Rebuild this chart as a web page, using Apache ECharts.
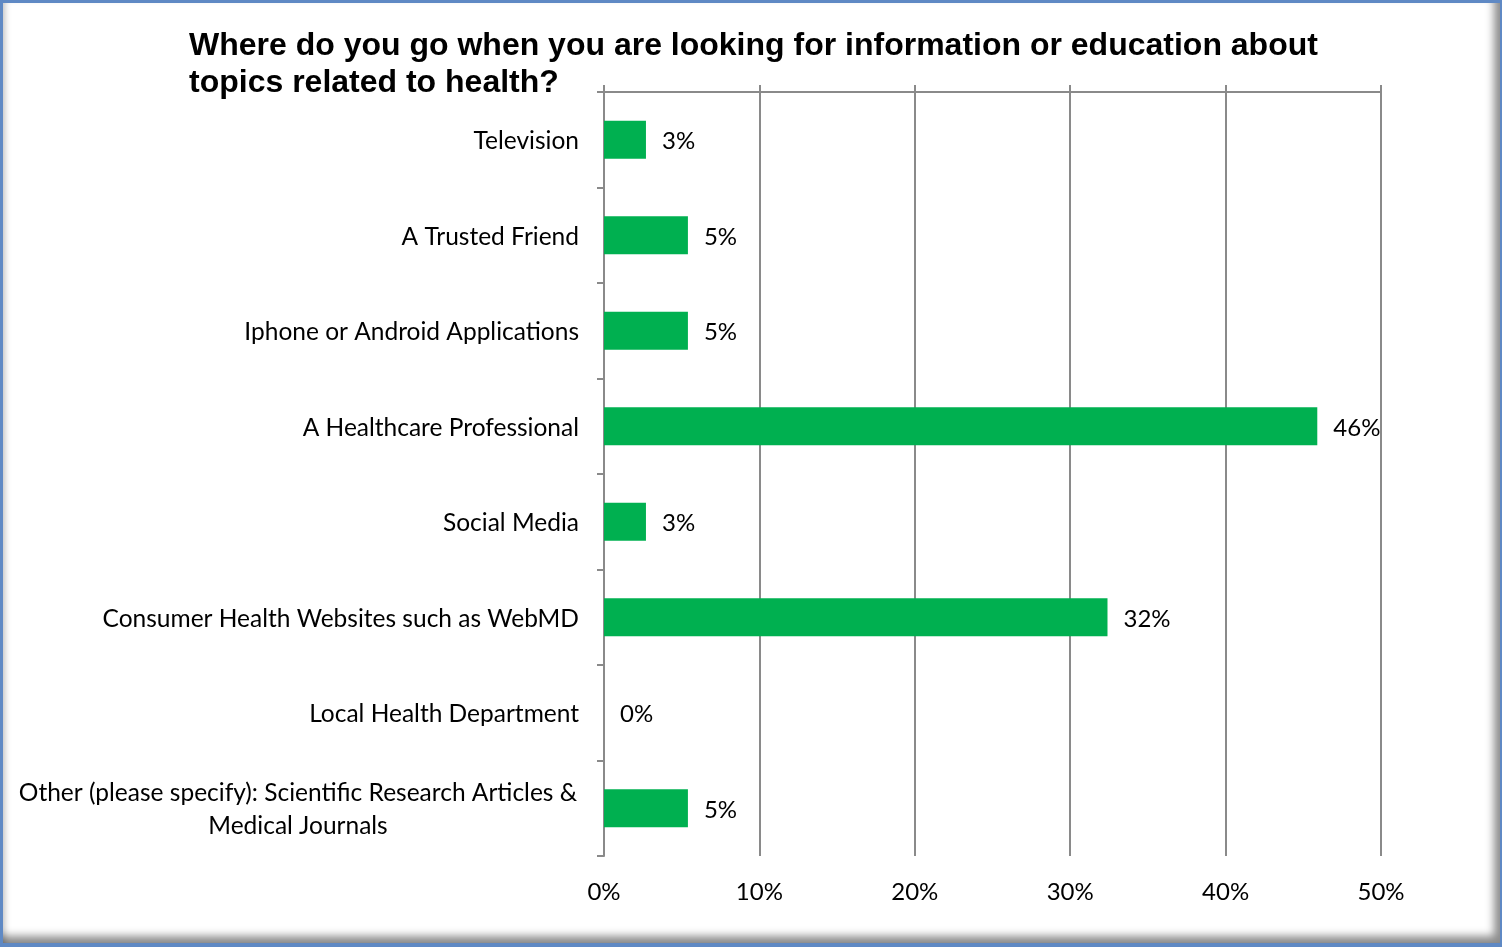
<!DOCTYPE html>
<html>
<head>
<meta charset="utf-8">
<script src="https://cdn.jsdelivr.net/npm/echarts@6/dist/echarts.min.js"></script>
<style>
  html, body { margin: 0; padding: 0; background: #fff; }
  #frame {
    position: absolute; left: 0; top: 0; width: 1502px; height: 947px;
    box-sizing: border-box;
    border-top: 3px solid #5f89c4; border-left: 3px solid #5f89c4;
    border-right: 2px solid #5f89c4; border-bottom: 4px solid #5f89c4;
    box-shadow: inset -11px -12px 8px -5px rgba(0,0,0,0.45), inset 6px 0 6px -4px rgba(0,0,0,0.25);
    background: #fff;
  }
  #chart { position: absolute; left: 0; top: 0; width: 1502px; height: 947px; }
</style>
</head>
<body>
<div id="frame"></div>
<div id="chart"></div>
<script>
// Survey responses, percent of respondents
const categories = [
  'Television',
  'A Trusted Friend',
  'Iphone or Android Applications',
  'A Healthcare Professional',
  'Social Media',
  'Consumer Health Websites such as WebMD',
  'Local Health Department',
  'Other (please specify): Scientific Research Articles &\nMedical Journals'
];
const shares = [2.7, 5.4, 5.4, 45.9, 2.7, 32.4, 0, 5.4];
const axisTicks = [0, 10, 20, 30, 40, 50];
const titleText = 'Where do you go when you are looking for information or education about\ntopics related to health?';

const labelFont = 'Lato, "Open Sans", sans-serif';
const gray = '#8a8a8a';

const chart = echarts.init(document.getElementById('chart'), null, { renderer: 'canvas' });

chart.setOption({
  backgroundColor: 'transparent',
  animation: false,
  title: {
    text: titleText,
    left: 189,
    top: 28,
    padding: 0,
    textStyle: {
      fontFamily: '"Liberation Sans", Arial, sans-serif',
      fontWeight: 'bold',
      fontSize: 32,
      lineHeight: 37,
      color: '#000'
    }
  },
  grid: { left: 604, right: 121, top: 92, bottom: 91, containLabel: false },
  xAxis: [
    {
      type: 'value',
      position: 'top',
      min: axisTicks[0],
      max: axisTicks[axisTicks.length - 1],
      interval: axisTicks[1] - axisTicks[0],
      axisLine: { show: true, lineStyle: { color: gray, width: 2 } },
      axisTick: { show: true, length: 7, lineStyle: { color: gray, width: 2 } },
      axisLabel: { show: false },
      splitLine: { show: true, lineStyle: { color: gray, width: 2 } }
    },
    {
      type: 'value',
      position: 'bottom',
      min: axisTicks[0],
      max: axisTicks[axisTicks.length - 1],
      interval: axisTicks[1] - axisTicks[0],
      axisLine: { show: false },
      axisTick: { show: false },
      splitLine: { show: false },
      axisLabel: {
        margin: 24,
        fontFamily: labelFont,
        fontSize: 24,
        color: '#000',
        formatter: v => v + '%'
      }
    }
  ],
  yAxis: {
    type: 'category',
    inverse: true,
    data: categories,
    axisLine: { show: true, lineStyle: { color: gray, width: 2 } },
    axisTick: { show: true, length: 7, alignWithLabel: false, lineStyle: { color: gray, width: 2 } },
    axisLabel: {
      margin: 25,
      fontFamily: labelFont,
      fontSize: 24.5,
      color: '#000',
      lineHeight: 33,
      padding: [3, 0, 0, 0],
      formatter: function (value) {
        if (value.indexOf('\n') >= 0) {
          return value.split('\n').map(s => '{c|' + s + '}').join('\n');
        }
        return value;
      },
      rich: {
        c: {
          width: 562,
          align: 'center',
          fontFamily: labelFont,
          fontSize: 24.5,
          lineHeight: 33,
          color: '#000'
        }
      }
    }
  },
  series: [{
    type: 'bar',
    xAxisIndex: 0,
    data: shares,
    barWidth: 38,
    itemStyle: { color: '#00b050' },
    label: {
      show: true,
      position: 'right',
      distance: 16,
      offset: [0, 2],
      fontFamily: labelFont,
      fontSize: 24,
      color: '#000',
      formatter: p => Math.round(p.value) + '%'
    }
  }]
});
</script>
</body>
</html>
